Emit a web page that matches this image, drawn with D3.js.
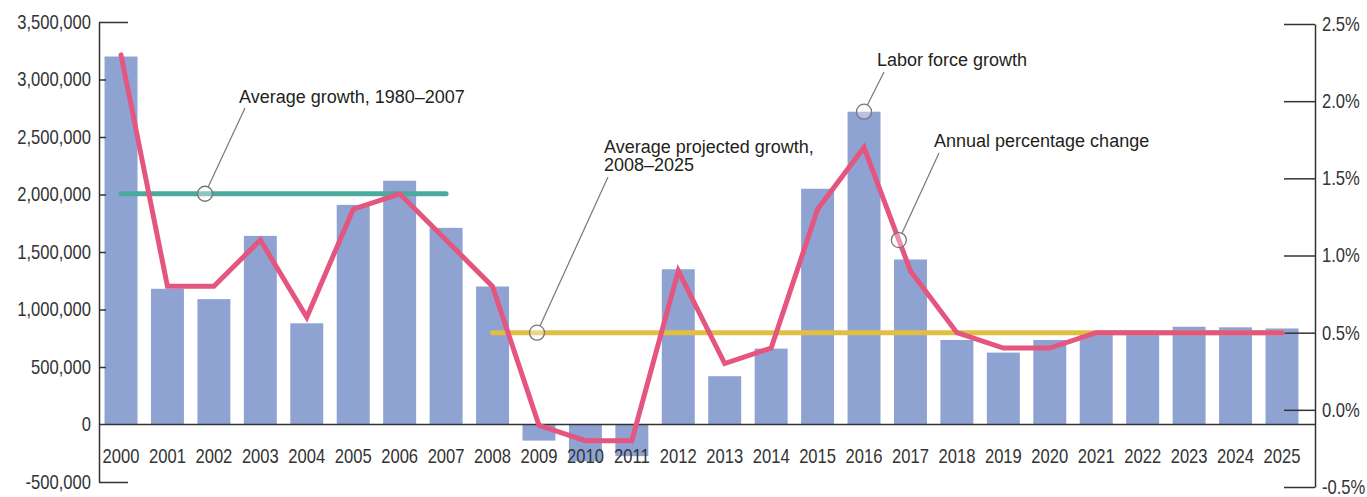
<!DOCTYPE html>
<html>
<head>
<meta charset="utf-8">
<script src="https://cdn.jsdelivr.net/npm/d3@7"></script>
<style>
  body { margin: 0; background: #fff; }
  svg { display: block; }
  .tick text { font-family: "Liberation Sans", Arial, sans-serif; font-size: 20px; fill: #333; }
  .note { font-family: "Liberation Sans", Arial, sans-serif; font-size: 18px; fill: #231f20; }
</style>
</head>
<body>
<div id="chart"></div>
<script>
// chart values
const years = ["2000", "2001", "2002", "2003", "2004", "2005", "2006", "2007", "2008", "2009", "2010", "2011", "2012",
    "2013", "2014", "2015", "2016", "2017", "2018", "2019", "2020", "2021", "2022", "2023", "2024", "2025"];
const laborGrowth = [3200000, 1180000, 1090000, 1640000, 880000, 1910000, 2120000, 1710000, 1200000, -140000, -320000, -275000, 1350000,
    420000, 660000, 2050000, 2720000, 1435000, 735000, 625000, 735000, 800000, 800000, 850000, 845000, 835000];
const pctChange = [2.3, 0.8, 0.8, 1.1, 0.6, 1.3, 1.4, 1.1, 0.8, -0.1, -0.2, -0.2, 0.9,
    0.3, 0.4, 1.3, 1.7, 0.9, 0.5, 0.4, 0.4, 0.5, 0.5, 0.5, 0.5, 0.5];
const avgPast = { from: "2000", to: "2007", value: 1.4 };
const avgProjected = { from: "2008", to: "2025", value: 0.5 };
const leftTicks = [-500000, 0, 500000, 1000000, 1500000, 2000000, 2500000, 3000000, 3500000];
const rightTicks = [-0.5, 0, 0.5, 1.0, 1.5, 2.0, 2.5];
const noteTexts = ["Average growth, 1980\u20132007", "Average projected growth,", "2008\u20132025", "Labor force growth", "Annual percentage change"];

const W = 1367, H = 497;
const svg = d3.select("#chart").append("svg").attr("width", W).attr("height", H);

const x = d3.scaleBand().domain(years).range([97.8, 1305.2]).paddingInner(0.29).paddingOuter(0.145);
const yL = d3.scaleLinear().domain([-500000, 3500000]).range([482, 22]);
const yR = d3.scaleLinear().domain([-0.5, 2.5]).range([487, 24]);
const xc = d => x(d) + x.bandwidth() / 2;

// tick labels are condensed in the original: squeeze them horizontally
const squeeze = 0.83;
function condense(sel) {
    sel.each(function() {
        const t = d3.select(this);
        const x0 = +t.attr("x") || 0;
        t.attr("x", x0 / squeeze).attr("transform", `scale(${squeeze},1)`);
    });
}

// bars
svg.append("g").selectAll("rect")
    .data(laborGrowth)
    .join("rect")
    .attr("x", (d, i) => x(years[i]))
    .attr("y", d => yL(Math.max(0, d)))
    .attr("width", x.bandwidth())
    .attr("height", d => Math.abs(yL(d) - yL(0)))
    .attr("fill", "#8fa3d3");

// zero line
svg.append("line")
    .attr("x1", 99).attr("x2", 1315)
    .attr("y1", yL(0)).attr("y2", yL(0))
    .attr("stroke", "#333").attr("stroke-width", 1.5);

// left axis
const minus = s => s.replace("\u2212", "-");
const leftAxis = svg.append("g")
    .attr("transform", "translate(99,0)")
    .call(d3.axisLeft(yL).tickValues(leftTicks).tickSizeInner(-7).tickSizeOuter(0).tickPadding(8)
        .tickFormat(d => minus(d3.format(",")(d))));
leftAxis.select(".domain").attr("stroke", "#333").attr("stroke-width", 1.5);
leftAxis.selectAll(".tick line").attr("stroke", "#333").attr("stroke-width", 1.5)
    .attr("x2", d => (d === 3500000 || d === -500000) ? 29 : 7);
leftAxis.selectAll(".tick").filter(d => d === 0).select("line").remove();
leftAxis.selectAll(".tick text").call(condense);

// right axis
const rightAxis = svg.append("g")
    .attr("transform", "translate(1315,0)")
    .call(d3.axisRight(yR).tickValues(rightTicks).tickSizeInner(-31).tickSizeOuter(0).tickPadding(7)
        .tickFormat(d => minus(d3.format(".1f")(d)) + "%"));
rightAxis.select(".domain").attr("stroke", "#333").attr("stroke-width", 1.5);
rightAxis.selectAll(".tick line").attr("stroke", "#333").attr("stroke-width", 1.5);
rightAxis.selectAll(".tick text").call(condense);

// year labels
const xAxis = svg.append("g")
    .attr("transform", "translate(0,449)")
    .call(d3.axisBottom(x).tickSize(0).tickPadding(0));
xAxis.select(".domain").remove();
xAxis.selectAll(".tick text").call(condense);

// average lines
svg.append("line")
    .attr("x1", xc(avgPast.from)).attr("x2", xc(avgPast.to))
    .attr("y1", yR(avgPast.value)).attr("y2", yR(avgPast.value))
    .attr("stroke", "#4baa9e").attr("stroke-width", 5).attr("stroke-linecap", "round");
svg.append("line")
    .attr("x1", xc(avgProjected.from)).attr("x2", xc(avgProjected.to))
    .attr("y1", yR(avgProjected.value)).attr("y2", yR(avgProjected.value))
    .attr("stroke", "#dfc043").attr("stroke-width", 5).attr("stroke-linecap", "round");

// annual percentage change line
const line = d3.line().x((d, i) => xc(years[i])).y(d => yR(d));
svg.append("path")
    .datum(pctChange)
    .attr("d", line)
    .attr("fill", "none")
    .attr("stroke", "#e4557f")
    .attr("stroke-width", 5)
    .attr("stroke-linecap", "round")
    .attr("stroke-linejoin", "miter");

// annotations: circle + leader + text
const i16 = years.indexOf("2016");
const notes = [
    { cx: 205, cy: yR(avgPast.value), ex: 245, ey: 108 },
    { cx: 537, cy: yR(avgProjected.value), ex: 608, ey: 177 },
    { cx: xc("2016"), cy: yL(laborGrowth[i16]), ex: 884, ey: 72 },
    { cx: d3.interpolate(xc("2016"), xc("2017"))(0.75), cy: d3.interpolate(yR(pctChange[i16]), yR(pctChange[i16 + 1]))(0.75), ex: 939, ey: 153 }
];
const r = 7.5;
notes.forEach(n => {
    const a = Math.atan2(n.ey - n.cy, n.ex - n.cx);
    svg.append("line")
        .attr("x1", n.cx + r * Math.cos(a)).attr("y1", n.cy + r * Math.sin(a))
        .attr("x2", n.ex).attr("y2", n.ey)
        .attr("stroke", "#777").attr("stroke-width", 1.2);
    svg.append("circle")
        .attr("cx", n.cx).attr("cy", n.cy).attr("r", r)
        .attr("fill", "rgba(255,255,255,0.35)")
        .attr("stroke", "#777").attr("stroke-width", 1.3);
});

const notePos = [[239, 103], [604, 153], [604, 171], [877, 66], [934, 147]];
svg.append("g").selectAll("text")
    .data(noteTexts)
    .join("text")
    .attr("class", "note")
    .attr("x", (d, i) => notePos[i][0])
    .attr("y", (d, i) => notePos[i][1])
    .text(d => d);
</script>
</body>
</html>
